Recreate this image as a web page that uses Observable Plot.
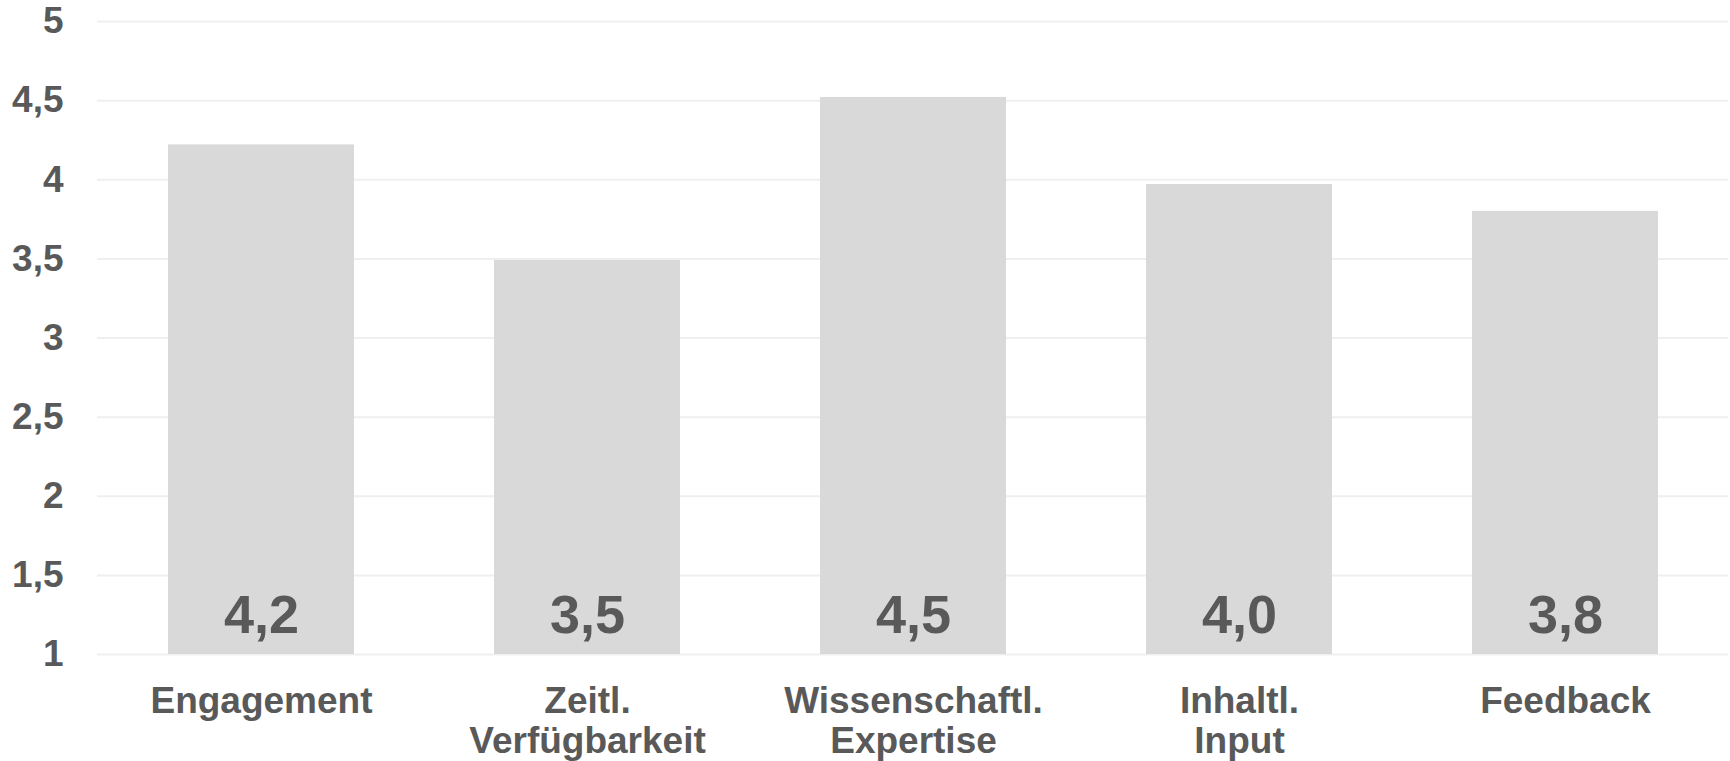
<!DOCTYPE html>
<html>
<head>
<meta charset="utf-8">
<script src="https://cdn.jsdelivr.net/npm/d3@7"></script>
<script src="https://cdn.jsdelivr.net/npm/@observablehq/plot@0.6"></script>
<style>
  html, body { margin: 0; padding: 0; background: #ffffff; }
  #chart svg { display: block; }
</style>
</head>
<body>
<div id="chart"></div>
<script>
// Bewertung der Betreuung (Mittelwerte auf einer Skala von 1 bis 5)
const categories = [
  "Engagement",
  "Zeitl.\nVerfügbarkeit",
  "Wissenschaftl.\nExpertise",
  "Inhaltl.\nInput",
  "Feedback"
];
const values = [4.22, 3.49, 4.52, 3.97, 3.80];
const yTicks = [1, 1.5, 2, 2.5, 3, 3.5, 4, 4.5, 5];

const data = categories.map((c, i) => ({category: c, value: values[i]}));

// Dezimalkomma statt Punkt
const comma = (s) => String(s).replace(".", ",");
const fmtValue = (v) => comma(d3.format(".1f")(v));

const textColor = "#595959";
const font = "'Liberation Sans', Arial, sans-serif";

const chart = Plot.plot({
  width: 1730,
  height: 761,
  marginTop: 21,
  marginBottom: 107,
  marginLeft: 97,
  marginRight: 2,
  style: {fontFamily: font, background: "#ffffff"},
  x: {domain: categories, paddingInner: 0.43, paddingOuter: 0.215},
  y: {domain: [1, 5]},
  marks: [
    Plot.ruleY(yTicks, {stroke: "#efefef", strokeWidth: 2}),
    Plot.barY(data, {x: "category", y1: 1, y2: "value", fill: "#d9d9d9"}),
    Plot.text(data, {
      x: "category",
      y: () => 1,
      text: (d) => fmtValue(d.value),
      lineAnchor: "bottom",
      dy: -22,
      fontSize: 54,
      fontWeight: "bold",
      fill: textColor
    }),
    Plot.axisY({
      ticks: yTicks,
      tickFormat: comma,
      tickSize: 0,
      tickPadding: 34,
      fontSize: 37,
      fontWeight: "bold",
      fill: textColor,
      label: null
    }),
    Plot.axisX({
      tickSize: 0,
      tickPadding: 30,
      fontSize: 37,
      lineHeight: 1.08,
      fontWeight: "bold",
      fill: textColor,
      label: null
    })
  ]
});

document.getElementById("chart").appendChild(chart);
</script>
</body>
</html>
